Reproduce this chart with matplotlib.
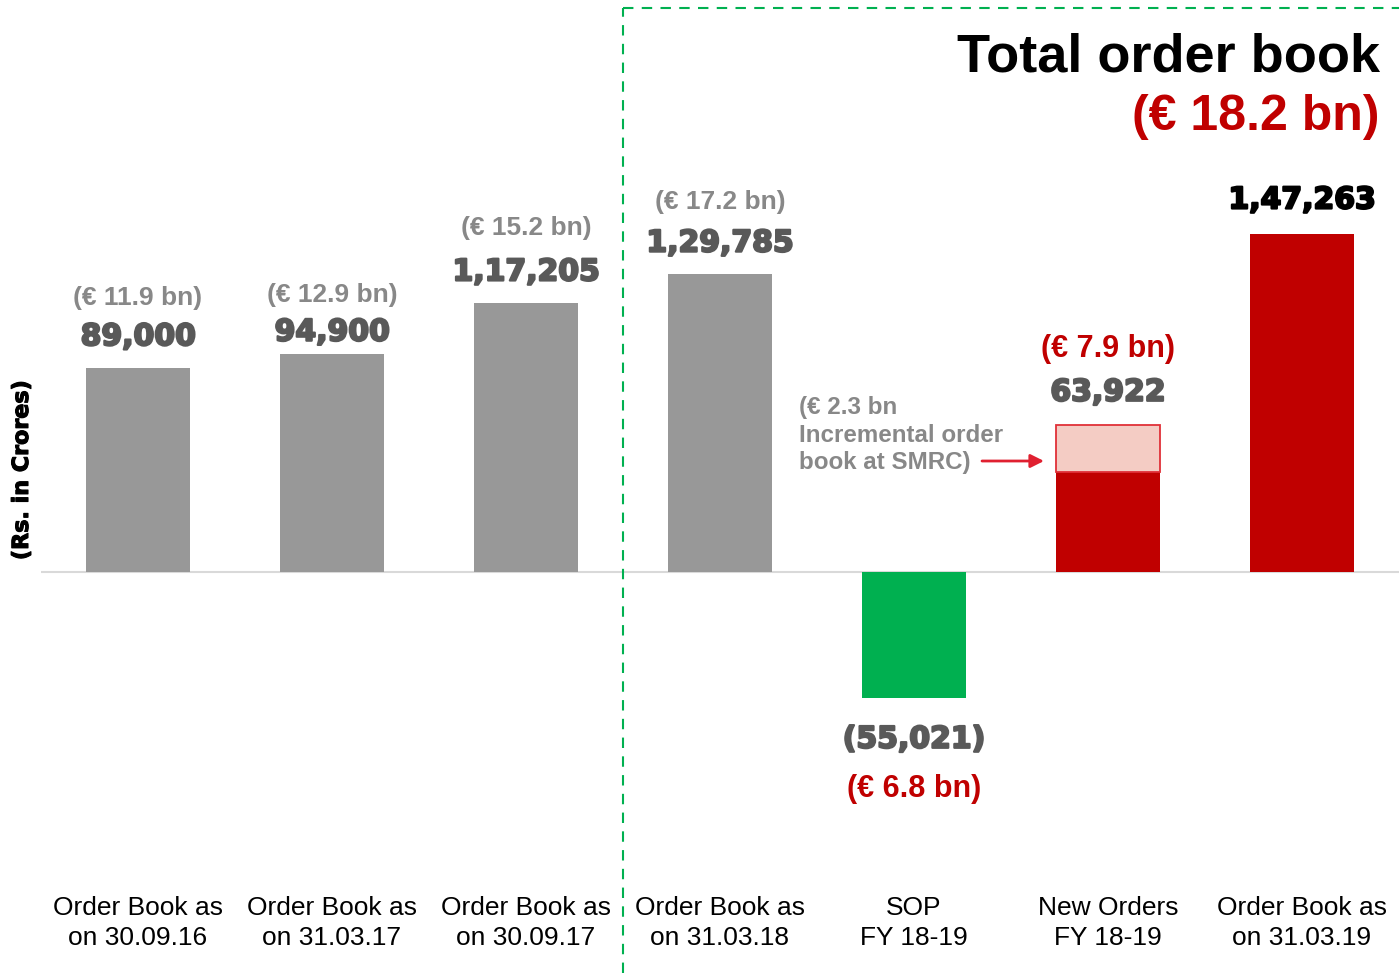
import numpy as np
import matplotlib
matplotlib.use("Agg")
import matplotlib.pyplot as plt
import matplotlib.patheffects as pe

# data
categories = ["Order Book as\non 30.09.16", "Order Book as\non 31.03.17", "Order Book as\non 30.09.17",
              "Order Book as\non 31.03.18", "SOP\nFY 18-19", "New Orders\nFY 18-19", "Order Book as\non 31.03.19"]
values = [89000, 94900, 117205, 129785, -55021, 63922, 147263]
value_text = ["89,000", "94,900", "1,17,205", "1,29,785", "(55,021)", "63,922", "1,47,263"]
euro_text = ["(€ 11.9 bn)", "(€ 12.9 bn)", "(€ 15.2 bn)", "(€ 17.2 bn)", "(€ 6.8 bn)", "(€ 7.9 bn)", ""]
smrc_part = 20400   # light part on top of the new orders bar

GREY = "#989898"
RED = "#C00000"
GREEN = "#00B050"
DARK = "#595959"
EUROGREY = "#888888"

bar_colors = [GREY, GREY, GREY, GREY, GREEN, RED, RED]
value_colors = [DARK, DARK, DARK, DARK, DARK, DARK, "black"]
euro_colors = [EUROGREY, EUROGREY, EUROGREY, EUROGREY, RED, RED, RED]

fig = plt.figure(figsize=(13.99, 9.73), dpi=100)
ax = fig.add_axes([41 / 1399, 0, 1358 / 1399, 1])
ax.set_xlim(-0.5, 6.5)
ax.set_ylim(-174700, 249200)
ax.axis("off")

x = np.arange(len(values))
ax.bar(x, values, width=0.536, color=bar_colors, zorder=2)
ax.axhline(0, color="#D9D9D9", lw=1.5, zorder=1)

# incremental SMRC part
ax.bar(5, smrc_part, bottom=values[5] - smrc_part, width=0.536, color="#F4CCC4",
       edgecolor="#E03038", linewidth=1.3, zorder=3)

px = 0.72  # pixel -> point
lift_val = [31, 22, 31, 31, 41, 33, 34]
lift_eur = [70, 59, 75, 72, 91, 76, 0]
for i, v in enumerate(values):
    sgn = 1 if v >= 0 else -1
    ax.annotate(value_text[i], (i, v), xytext=(0, sgn * lift_val[i] * px), textcoords="offset points",
                ha="center", va="center", fontsize=21.5, fontweight="bold", color=value_colors[i],
                family="DejaVu Sans",
                path_effects=[pe.withStroke(linewidth=1.6, foreground=value_colors[i])])
    if euro_text[i]:
        big = euro_colors[i] == RED
        ax.annotate(euro_text[i], (i, v), xytext=(0, sgn * lift_eur[i] * px), textcoords="offset points",
                    ha="center", va="center", fontsize=22 if big else 19, fontweight="bold",
                    color=euro_colors[i], family="Liberation Sans")

# category labels
for i, c in enumerate(categories):
    ax.text(i, 1 - 923 / 973, c, transform=ax.get_xaxis_transform(), ha="center", va="center",
            fontsize=19, family="Liberation Sans", linespacing=1.27)

# dashed box for right half
top = 1 - 8 / 973
ax.plot([2.5, 2.5], [0, top], transform=ax.get_xaxis_transform(), color=GREEN, lw=1.5,
        ls=(0, (5, 4)), clip_on=False)
ax.plot([2.5, 6.5], [top, top], transform=ax.get_xaxis_transform(), color=GREEN, lw=1.5,
        ls=(0, (5, 4)), clip_on=False)

# titles
fig.text(1380 / 1399, 1 - 58 / 973, "Total order book", ha="right", va="center", fontsize=39,
         fontweight="bold", family="Liberation Sans")
fig.text(1380 / 1399, 1 - 117 / 973, "(€ 18.2 bn)", ha="right", va="center", fontsize=36,
         fontweight="bold", color=RED, family="Liberation Sans")

# SMRC note with arrow
fig.text(799 / 1399, 1 - 435 / 973, "(€ 2.3 bn\nIncremental order\nbook at SMRC)", ha="left", va="center",
         fontsize=17.4, fontweight="bold", color=EUROGREY, family="Liberation Sans", linespacing=1.27)
ax.annotate("", xy=(1044 / 1399, 1 - 461 / 973), xytext=(982 / 1399, 1 - 461 / 973),
            xycoords="figure fraction", textcoords="figure fraction",
            arrowprops=dict(arrowstyle="-|>", color="#E02030", lw=2, mutation_scale=20, shrinkA=0, shrinkB=0))

# y label
fig.text(22 / 1399, 1 - 470 / 973, "(Rs. in Crores)", rotation=90, ha="center", va="center",
         fontsize=16, fontweight="bold", family="DejaVu Sans",
         path_effects=[pe.withStroke(linewidth=0.8, foreground="black")])

fig.savefig("out.png", dpi=100)
